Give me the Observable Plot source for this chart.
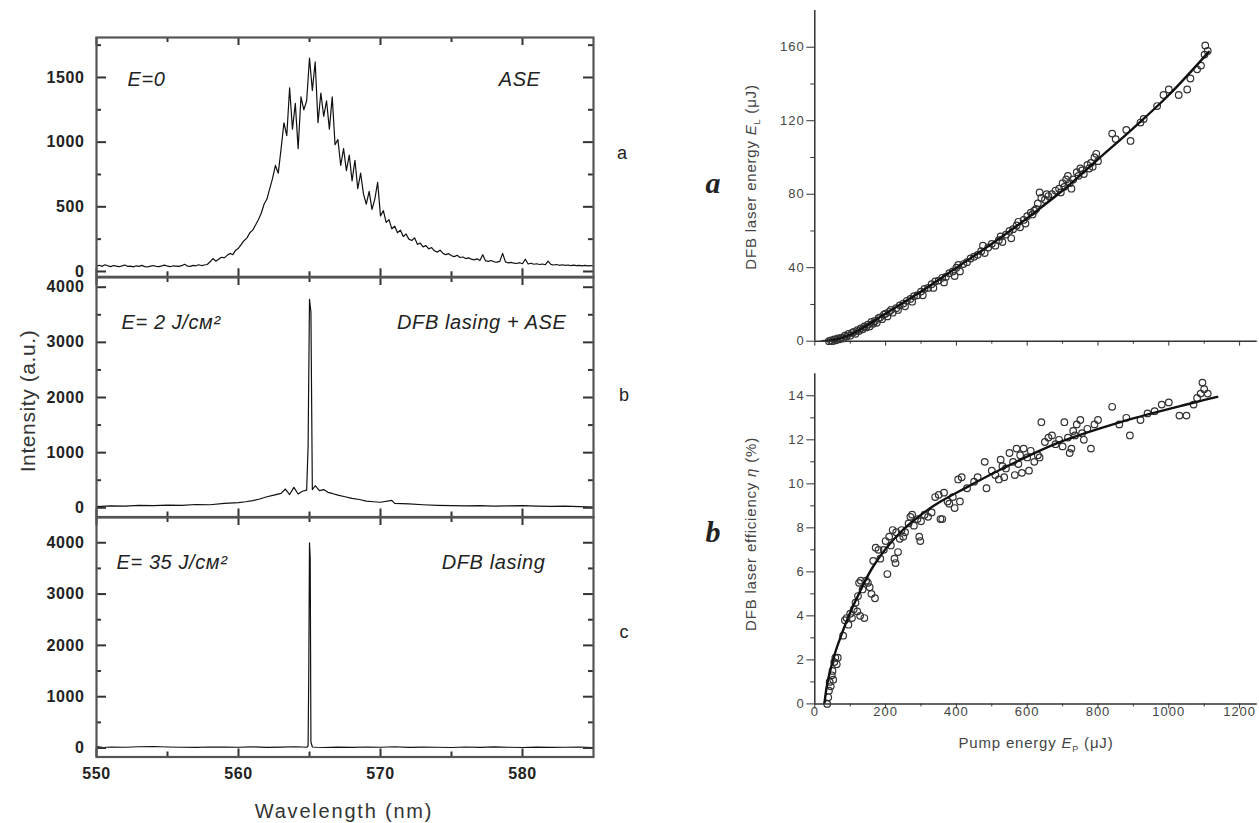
<!DOCTYPE html>
<html><head><meta charset="utf-8">
<script src="https://cdn.jsdelivr.net/npm/d3@7"></script>
<script src="https://cdn.jsdelivr.net/npm/@observablehq/plot@0.6"></script>
<style>
body{margin:0;background:#fff;}
#fig{position:relative;width:1259px;height:823px;overflow:hidden;font-family:"Liberation Sans",Arial,sans-serif;background:#fff;}
.pos{position:absolute;}
.lbl{position:absolute;white-space:nowrap;color:#222;transform:translate(-50%,-50%);line-height:1;}
.rot{transform:translate(-50%,-50%) rotate(-90deg);}
.ital{font-family:"Liberation Serif","Times New Roman",serif;font-style:italic;font-weight:bold;}
</style></head><body><div id="fig"></div>
<script>
// ---------- Left: spectra ----------
// Panel a (E=0, ASE) sampled every 0.2 nm from 550 to 585 nm
const wlStartA = 550, wlStepA = 0.2;
const intensityA = [
 42,48,40,52,44,38,46,41,37,43,50,39,42,36,44,40,47,38,35,42,
 46,40,38,43,49,41,37,44,42,39,45,56,42,40,47,44,52,46,50,54,
 75,100,80,95,110,105,125,140,130,165,180,210,240,260,300,320,360,400,450,520,
 560,640,720,820,760,950,1150,1050,1420,1100,
 1300,950,1350,1250,1320,1650,1400,1620,1150,1380,
 1200,1320,1100,1350,980,1020,820,950,780,900,
 700,860,640,760,600,520,620,480,560,690,
 430,470,380,400,330,350,300,320,270,290,
 250,240,260,210,220,190,200,175,185,160,
 150,165,140,130,138,122,115,125,108,112,
 100,105,95,90,98,85,130,82,78,85,
 75,72,78,140,74,66,70,64,62,68,
 60,95,58,64,56,60,54,58,52,80,
 55,50,54,48,52,47,50,46,49,45,
 48,44,47,43,46,44
];
const wavelengthsA = intensityA.map((_, i) => +(wlStartA + wlStepA * i).toFixed(1));

// Panel b (E = 2 J/cm2, DFB lasing + ASE)
const wavelengthsB = [550,551,552,553,554,555,556,557,558,559,560,560.5,561,561.5,562,562.5,563,563.3,563.6,563.9,564.2,564.5,564.8,564.9,565.0,565.1,565.2,565.4,565.7,566,566.3,566.6,567,567.5,568,568.5,569,569.5,570,570.8,571,572,573,574,575,576,577,578,579,580,581,582,583,584,585];
const intensityB = [20,35,30,45,40,50,45,60,55,80,95,110,130,160,200,230,260,340,240,370,250,300,320,1100,3780,3550,330,400,310,330,280,260,230,200,170,150,120,110,100,135,80,70,55,45,40,35,40,30,35,40,30,25,30,20,10];

// Panel c (E = 35 J/cm2, DFB lasing)
const wavelengthsC = [550,550.5,551,552,553,554,555,556,557,558,559,560,561,562,563,564,564.5,564.8,564.9,564.95,565.0,565.05,565.1,565.2,565.5,566,567,568,569,570,571,572,573,574,575,576,577,578,579,580,581,582,583,584,585];
const intensityC = [30,10,20,15,25,30,20,15,12,20,18,15,22,12,18,25,20,15,40,1500,4000,3700,120,20,15,10,18,12,20,15,25,12,18,15,10,20,12,22,15,10,18,12,15,20,10];

const wlMajor = [550,560,570,580];
const wlMinor = [555,565,575];
const yMajorA = [0,500,1000,1500], yMinorA = [250,750,1250,1750];
const yMajorBC = [0,1000,2000,3000,4000], yMinorBC = [500,1500,2500,3500];

// ---------- Right: DFB laser energy / efficiency vs pump energy ----------
const pumpA = [40,45,50,55,60,65,70,75,80,85,90,95,100,105,110,115,120,125,130,135,140,145,150,155,160,165,170,175,180,185,190,195,200,205,210,215,220,230,235,240,250,255,260,270,275,280,290,300,305,310,320,330,335,340,350,360,365,370,380,390,395,400,405,410,420,430,440,450,460,470,475,480,490,500,510,520,525,530,540,550,555,560,570,575,580,590,595,600,610,615,620,625,630,635,640,650,655,660,670,680,690,695,700,705,710,715,720,725,730,740,745,750,755,760,770,775,780,785,790,795,800,840,850,880,892,920,929,967,985,1000,1028,1052,1061,1080,1091,1101,1103,1110];
const energyA = [0,0.5,0,1,0.5,1.5,1,2,1.5,3,2.5,4,3,4.5,5,4,6,5.5,7,6.5,8,7.5,9,8,10.5,9.5,11,10,12.5,13,12,14.5,15,13.5,16,17,15.5,18,17,19.5,20.5,19,22,23,21.5,24.5,25,27,25,28.5,29,31,29,32.5,33,34.5,32,35,37,38,35.5,40,41.5,38,42,43,45,46,47,49,52,48,51,53,52,55,57,54,58,60,56,61,63,65,62,66,64,68,70,69,71,72,75,81,78,77,80,79,80,82,83,81,86,84,88,90,86,83,88,92,90,94,93,91,96,94,97,95,100,102,98,113,110,115,109,119,121,128,134,137,134,137,143,148,150,156,161,158];
const fitPumpA = [20,50,100,150,200,300,400,500,600,700,800,900,1000,1113];
const fitEnergyA = [0,0.5,3.5,9,15,27,40,53,67,82,99,116,134,157.5];

const pumpB = [35,38,40,42,45,48,50,52,55,58,62,65,80,85,90,95,100,105,110,115,120,122,125,128,130,135,140,145,150,155,160,165,170,172,180,185,195,200,205,210,215,220,225,228,230,235,240,245,250,255,265,270,275,280,290,295,298,300,310,320,330,340,350,355,360,365,375,380,390,395,405,410,415,430,450,460,480,485,500,510,520,525,530,535,540,550,560,565,570,575,580,585,590,600,605,610,620,630,635,640,650,660,670,680,690,700,705,715,720,725,730,735,740,750,755,760,770,780,790,800,840,860,880,890,920,940,960,980,1000,1030,1050,1070,1080,1090,1095,1100,1110];
const effB = [0,0.3,0.6,1.0,0.8,1.3,1.5,1.1,1.9,2.1,1.8,2.1,3.1,3.8,3.9,3.6,4.1,3.9,4.3,4.6,4.2,4.9,5.5,4.0,5.6,5.2,3.9,5.6,5.5,5.3,5.0,6.5,4.8,7.1,7.0,6.6,7.0,7.4,5.9,7.6,7.2,7.9,6.6,6.4,7.8,6.9,7.5,7.9,7.6,7.8,8.2,8.5,8.6,8.1,8.4,7.6,7.4,8.3,8.6,8.5,8.7,9.4,9.5,8.4,8.4,9.6,9.2,9.1,9.4,8.9,10.2,9.2,10.3,9.8,10.1,10.3,11.0,9.8,10.6,10.4,10.2,11.1,10.8,10.3,10.7,11.4,11.0,10.4,11.6,10.9,11.3,10.5,11.6,11.2,10.6,11.5,11.0,11.3,11.2,12.8,11.9,12.1,12.2,11.8,12.0,11.7,12.8,12.1,11.4,11.6,12.4,12.2,12.7,12.9,12.3,12.0,12.5,11.6,12.7,12.9,13.5,12.7,13.0,12.2,12.9,13.2,13.3,13.6,13.7,13.1,13.1,13.6,13.9,14.1,14.6,14.3,14.1];
const fitPumpB = [27,35,45,55,72,100,120,167,242,336,430,525,685,873,1061,1137];
const fitEffB = [0,0.9,1.6,2.2,3.0,4.15,4.85,6.3,7.8,9.0,9.85,10.65,11.85,12.85,13.65,13.95];

const pumpMajor = [0,200,400,600,800,1000,1200], pumpMinor = [100,300,500,700,900,1100];
const energyMajor = [0,40,80,120,160], energyMinor = [20,60,100,140];
const effMajor = [0,2,4,6,8,10,12,14], effMinor = [1,3,5,7,9,11,13];

// ---------- layout helpers ----------
const fig = document.getElementById("fig");
function place(node, left, top) {
  const d = document.createElement("div");
  d.className = "pos"; d.style.left = left + "px"; d.style.top = top + "px";
  d.appendChild(node); fig.appendChild(d);
}
function label(html, x, y, css, cls) {
  const d = document.createElement("div");
  d.className = "lbl " + (cls || "");
  d.style.left = x + "px"; d.style.top = y + "px";
  d.innerHTML = html; Object.assign(d.style, css || {});
  fig.appendChild(d);
}
const zip = (xs, ys) => xs.map((x, i) => ({x, y: ys[i]}));
const fmt = d3.format("d");
const none = () => "";

// inward ticks on all four sides (tick marks inset to a short length inside the frame)
function inwardTicks(fw, fh, yMaj, yMin) {
  const s = {stroke: "#333", strokeWidth: 2};
  return [
    Plot.tickY(yMaj, {y: d => d, insetRight: fw - 10, ...s}),
    Plot.tickY(yMaj, {y: d => d, insetLeft: fw - 10, ...s}),
    Plot.tickY(yMin, {y: d => d, insetRight: fw - 5, ...s}),
    Plot.tickY(yMin, {y: d => d, insetLeft: fw - 5, ...s}),
    Plot.tickX(wlMajor, {x: d => d, insetBottom: fh - 8, ...s}),
    Plot.tickX(wlMajor, {x: d => d, insetTop: fh - 8, ...s}),
    Plot.tickX(wlMinor, {x: d => d, insetBottom: fh - 5, ...s}),
    Plot.tickX(wlMinor, {x: d => d, insetTop: fh - 5, ...s})
  ];
}

function spectrum({wl, val, yDomain, yMajor, yMinor, top, fh, mB, showX, notes}) {
  const W = 620, mL = 96, mR = 27, mT = 10, fw = W - mL - mR;
  const marks = [
    Plot.line(zip(wl, val), {x: "x", y: "y", stroke: "#111", strokeWidth: 1.2, clip: true}),
    ...inwardTicks(fw, fh, yMajor, yMinor),
    Plot.axisY({ticks: yMajor, tickSize: 0, tickPadding: 12, tickFormat: fmt, fontSize: 16, fontWeight: "bold", fill: "#222", label: null}),
    Plot.axisX({ticks: wlMajor, tickSize: 0, tickPadding: 11, tickFormat: showX ? fmt : none, fontSize: 16, fontWeight: "bold", fill: "#222", label: null}),
    Plot.frame({stroke: "#555", strokeWidth: 2.2}),
    ...notes.map(n => Plot.text([n.t], {text: d => d, frameAnchor: n.a, dx: n.dx, dy: n.dy, textAnchor: n.a === "top-left" ? "start" : "end", lineAnchor: "middle", fontSize: 20, fontStyle: "italic", fill: "#222"}))
  ];
  const p = Plot.plot({
    width: W, height: fh + mT + mB, marginLeft: mL, marginRight: mR, marginTop: mT, marginBottom: mB,
    x: {domain: [550, 585]},
    y: {domain: yDomain},
    style: {background: "transparent", fontFamily: "'Liberation Sans', Arial, sans-serif", overflow: "visible", letterSpacing: "0.6px", color: "#333"},
    marks
  });
  place(p, 0, top - mT);
}

spectrum({wl: wavelengthsA, val: intensityA, yDomain: [-41, 1809], yMajor: yMajorA, yMinor: yMinorA,
  top: 36.7, fh: 239.3, mB: 10, showX: false,
  notes: [{t: "E=0", a: "top-left", dx: 31, dy: 42}, {t: "ASE", a: "top-right", dx: -53, dy: 42}]});
spectrum({wl: wavelengthsB, val: intensityB, yDomain: [-167, 4176], yMajor: yMajorBC, yMinor: yMinorBC,
  top: 277, fh: 239.5, mB: 10, showX: false,
  notes: [{t: "E= 2 J/см²", a: "top-left", dx: 25, dy: 45}, {t: "DFB lasing + ASE", a: "top-right", dx: -27, dy: 45}]});
spectrum({wl: wavelengthsC, val: intensityC, yDomain: [-175, 4492], yMajor: yMajorBC, yMinor: yMinorBC,
  top: 516.5, fh: 239.5, mB: 40, showX: true,
  notes: [{t: "E= 35 J/см²", a: "top-left", dx: 20, dy: 45}, {t: "DFB lasing", a: "top-right", dx: -48, dy: 45}]});

function rightPanel({px, py, fx, fy, yDomain, yMajor, yMinor, showX, top, H, mT, mB}) {
  const axStyle = {fontSize: 13, fill: "#444", label: null};
  const p = Plot.plot({
    width: 569, height: H, marginLeft: 124.3, marginRight: 2.2, marginTop: mT, marginBottom: mB,
    x: {domain: [0, 1250]}, y: {domain: yDomain},
    style: {background: "transparent", fontFamily: "'Liberation Sans', Arial, sans-serif", overflow: "visible", letterSpacing: "1px", color: "#333"},
    marks: [
      Plot.axisY({ticks: yMajor, tickSize: 8, tickPadding: 2, tickFormat: fmt, ...axStyle}),
      Plot.axisY({ticks: yMinor, tickSize: 4, tickFormat: none, label: null}),
      Plot.axisX({ticks: pumpMajor, tickSize: 5, tickPadding: -2, tickFormat: showX ? fmt : none, ...axStyle}),
      Plot.axisX({ticks: pumpMinor, tickSize: 3, tickFormat: none, label: null}),
      Plot.ruleX([0], {stroke: "#333", strokeWidth: 1.5}),
      Plot.ruleY([0], {stroke: "#333", strokeWidth: 1.5}),
      Plot.dot(zip(px, py), {x: "x", y: "y", r: 3.3, stroke: "#333", strokeWidth: 1.2, fill: "none"}),
      Plot.line(zip(fx, fy), {x: "x", y: "y", curve: "catmull-rom", stroke: "#111", strokeWidth: 2.4, clip: true})
    ]
  });
  place(p, 690, top);
}
rightPanel({px: pumpA, py: energyA, fx: fitPumpA, fy: fitEnergyA, yDomain: [0, 180], yMajor: energyMajor, yMinor: energyMinor,
  showX: false, top: 0, H: 360, mT: 10, mB: 19.3});
rightPanel({px: pumpB, py: effB, fx: fitPumpB, fy: fitEffB, yDomain: [0, 15], yMajor: effMajor, yMinor: effMinor,
  showX: true, top: 340, H: 420, mT: 33.3, mB: 56.6});

// ---------- text labels ----------
label("Intensity (a.u.)", 27, 401, {fontSize: "21px", letterSpacing: "0.6px", color: "#333"}, "rot");
label("Wavelength (nm)", 344, 811, {fontSize: "20px", letterSpacing: "1.8px", color: "#333"});
label("a", 622, 153, {fontSize: "18px"});
label("b", 624, 395, {fontSize: "18px"});
label("c", 624, 632, {fontSize: "18px"});
label("DFB laser energy <i>E</i><sub style='font-size:9px'>L</sub> (μJ)", 752, 177, {fontSize: "15px", letterSpacing: "0.8px", color: "#444"}, "rot");
label("DFB laser efficiency <i>η</i> (%)", 750, 534, {fontSize: "15px", letterSpacing: "0.8px", color: "#444"}, "rot");
label("Pump energy <i>E</i><sub style='font-size:9px'>P</sub> (μJ)", 1036, 744, {fontSize: "15px", letterSpacing: "0.8px", color: "#444"});
label("a", 713, 183, {fontSize: "30px", color: "#222"}, "ital");
label("b", 713, 532, {fontSize: "30px", color: "#222"}, "ital");
</script>
</body></html>
